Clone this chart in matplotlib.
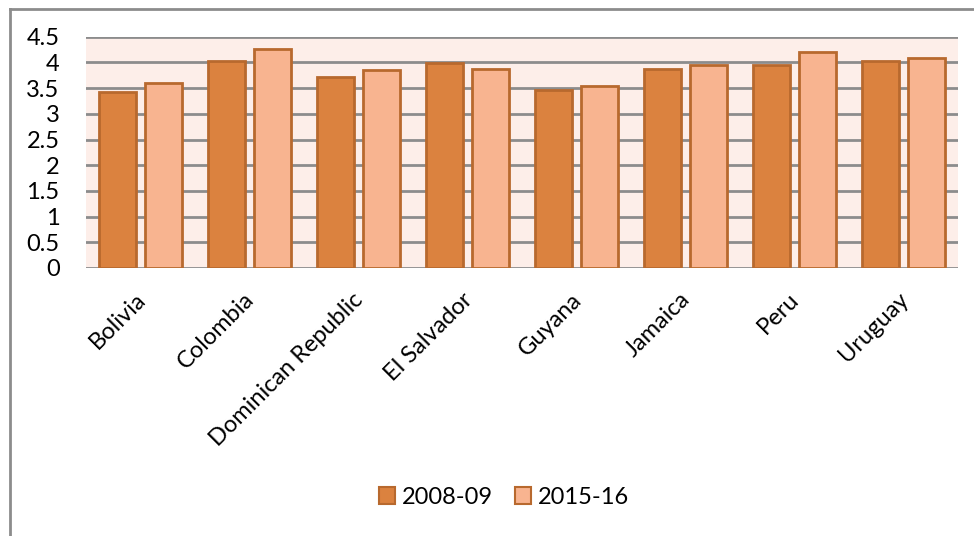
import matplotlib
matplotlib.use('Agg')
import matplotlib.pyplot as plt
import matplotlib.transforms as mtransforms
from matplotlib.lines import Line2D
import numpy as np

plt.rcParams['font.family'] = ['Lato', 'DejaVu Sans']

countries = ['Bolivia', 'Colombia', 'Dominican Republic', 'El Salvador',
             'Guyana', 'Jamaica', 'Peru', 'Uruguay']
vals_0809 = [3.42, 4.03, 3.72, 3.98, 3.46, 3.87, 3.95, 4.03]
vals_1516 = [3.60, 4.26, 3.85, 3.88, 3.54, 3.95, 4.21, 4.08]
yticks = [0, 0.5, 1, 1.5, 2, 2.5, 3, 3.5, 4, 4.5]

c_dark = '#DB823F'
c_light = '#F8B490'
c_edge = '#B8692E'

fig = plt.figure(figsize=(9.74, 5.36), dpi=100)
ax = fig.add_axes([86 / 974, 0.5, 872 / 974, 231.3 / 536])
ax.set_facecolor('#FDEEE9')

x = np.arange(len(countries))
w = 0.345
ax.bar(x - 0.21, vals_0809, w, color=c_dark, edgecolor=c_edge, linewidth=2, zorder=3, label='2008-09')
ax.bar(x + 0.21, vals_1516, w, color=c_light, edgecolor=c_edge, linewidth=2, zorder=3, label='2015-16')

ax.set_xlim(-0.5, len(countries) - 0.5)
ax.set_ylim(0, 4.5)
ax.set_yticks(yticks)
ax.set_yticklabels([f'{t:g}' for t in yticks])
for t in yticks:
    ax.axhline(t, color='#8C8C8C', linewidth=2, zorder=2)

for s in ax.spines.values():
    s.set_visible(False)
ax.tick_params(axis='both', length=0, labelsize=17)
ax.tick_params(axis='y', pad=19)
ax.set_xticks(x)
ax.set_xticklabels(countries, rotation=45, ha='right', va='top', rotation_mode='anchor')
ax.tick_params(axis='x', pad=15)
shift = mtransforms.ScaledTranslation(-6 / 100, 0, fig.dpi_scale_trans)
for lab in ax.get_xticklabels():
    lab.set_transform(lab.get_transform() + shift)

# legend below the axes
handles = [
    plt.Rectangle((0, 0), 1, 1, facecolor=c_dark, edgecolor=c_edge, linewidth=1.5),
    plt.Rectangle((0, 0), 1, 1, facecolor=c_light, edgecolor=c_edge, linewidth=1.5),
]
fig.legend(handles, ['2008-09', '2015-16'], loc='center', bbox_to_anchor=(504 / 974, 1 - 497 / 536),
           ncol=2, frameon=False, fontsize=17, handlelength=0.7, handleheight=0.7,
           handletextpad=0.3, columnspacing=0.9)

# outer chart border (left and top edges)
fig.add_artist(Line2D([9.5 / 974, 9.5 / 974], [0, 1 - 8.5 / 536], color='#8C8C8C', linewidth=2,
                      transform=fig.transFigure))
fig.add_artist(Line2D([9.5 / 974, 1], [1 - 8.5 / 536, 1 - 8.5 / 536], color='#8C8C8C', linewidth=2,
                      transform=fig.transFigure))

fig.savefig('out.png', dpi=100)
